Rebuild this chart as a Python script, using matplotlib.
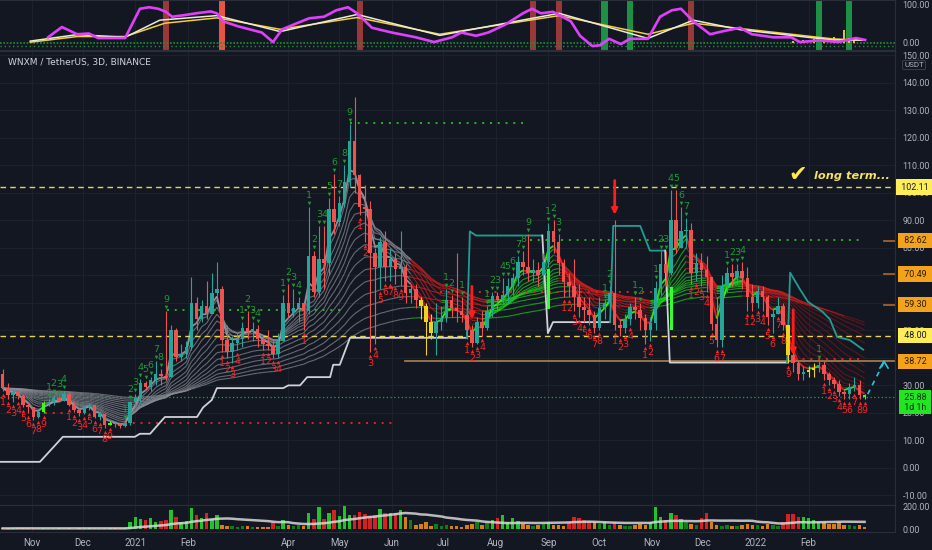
import numpy as np
import pandas as pd
import matplotlib.pyplot as plt
import matplotlib.transforms as mtransforms
from matplotlib.collections import LineCollection

BG = '#131722'
GRID = '#1d212c'
TXT = '#b2b5be'
AXFONT = 'Roboto'

# 3D candles, the first one opens on 2020-10-15
start = pd.Timestamp('2020-10-15')
first_open = 34.0
close = [29, 26.5, 27.5, 26, 23, 22, 18.5, 20.4, 23.5, 24,
         25.5, 24.5, 27, 23, 21, 20, 22, 23, 18.5, 19.6,
         15.5, 16.3, 15.8, 15.2, 16.3, 24, 25.5, 31, 29.5, 32,
         34, 33.5, 33, 50, 40.5, 41.5, 44, 60, 54, 59,
         56, 63.5, 65, 46.5, 42, 45.3, 47, 51, 49.5, 50.5,
         47, 45, 44.5, 41.5, 46, 60, 56.5, 58, 60, 57,
         77, 64, 76, 74.5, 94, 89.5, 96.5, 104, 119, 106.5,
         95, 94, 78, 73, 82, 73, 76, 72.5, 73, 63.5,
         65, 61, 59, 53, 49, 53, 54.5, 61, 58, 57,
         55.5, 50, 45.5, 53, 51, 57, 62.5, 61, 63, 66,
         69, 75, 73, 71, 72, 70, 75, 86, 82, 74.5,
         67.6, 66, 62, 58.5, 57.5, 55.6, 51, 58, 60, 63.5,
         52, 51, 54, 58.5, 57.5, 54.5, 50, 52.7, 65.5, 74,
         71, 90, 80, 86, 86.5, 71, 74.5, 72, 69.5, 52.5,
         46.5, 66, 71, 69.5, 71.5, 69, 62, 60, 64.5, 62,
         55, 56, 59, 52, 41, 38, 34, 35, 35.5, 36.5,
         37.5, 34, 32, 30.5, 27.6, 26.8, 29.5, 30, 26.5, 25.88]
high = [36, 31, 28.5, 28, 27, 23.5, 22, 21.5, 24.5, 25,
        26.5, 26, 28, 27.5, 24, 21.5, 23, 23.5, 23, 20.5,
        20, 17, 16.5, 16.3, 17, 24.5, 27, 32.5, 31.5, 33,
        39, 36, 57, 52, 51, 45, 46, 69.5, 62, 61,
        68, 71, 75, 66, 52, 48, 49, 53, 57, 53,
        52, 48, 50, 47, 49, 63, 67, 65, 62, 60,
        95, 79, 88, 88, 98, 107, 99, 110, 125, 135,
        107, 103, 97, 80, 84, 86, 80, 78, 86, 74,
        67, 67, 62, 60, 56, 60, 59, 65, 63, 78,
        62, 56, 52, 55, 57, 59, 64, 64, 69, 69,
        71, 77, 79, 85, 76, 75, 78, 89, 90, 85,
        76, 71, 76, 67, 62, 62, 57, 62, 61, 66,
        90, 54, 56, 60, 62, 60, 56, 55, 68, 79,
        79, 101, 101, 95, 91, 89, 78, 78, 77, 65,
        62, 70, 73, 74, 74, 75, 73, 67, 66, 66,
        63, 58, 62, 60, 52, 45, 39, 37, 37, 38,
        39, 39, 35, 33, 32, 28.5, 31, 33, 32, 27]
low = [28, 25, 24, 25, 22, 20, 17.5, 18, 20, 22.5,
       23, 24, 24.5, 22.5, 20.5, 19, 19.5, 21, 18, 17.5,
       14.5, 15.5, 15, 14.5, 15, 15.5, 22, 24, 28.5, 28,
       30, 30, 32, 33, 39, 39, 40, 43, 50, 53,
       54, 57, 62, 42, 40, 38, 43, 44, 47, 46,
       44, 43, 43, 40, 40, 46, 55, 55, 53, 50,
       56, 62, 62, 65, 70, 85, 88, 95, 102, 100,
       92, 82, 42, 45, 65, 68, 68, 67, 66, 60,
       60, 58, 54, 41, 47, 41, 50, 53, 55, 53,
       53, 47, 44, 45, 48, 50, 55, 57, 60, 60,
       63, 66, 70, 68, 68, 66, 67, 73, 78, 70,
       62, 62, 57, 55, 53, 52, 49, 50, 54, 57,
       50, 48, 49, 52, 54, 50, 45, 46, 50, 63,
       66, 70, 78, 80, 80, 67, 68, 66, 64, 50,
       44, 44, 64, 66, 67, 65, 57, 57, 58, 57,
       52, 49, 56, 50, 38, 35, 32, 32, 33, 33,
       35, 32, 30, 29, 26, 25, 25, 28, 25, 25]
volume = [6, 5, 8, 6, 5, 5, 7, 6, 8, 5, 6, 5, 6, 5, 4, 5, 5, 6, 7, 5, 8, 6, 5, 6, 7,
          68, 106, 88, 82, 97, 60, 70, 80, 176, 112, 60, 70, 194, 126, 100,
          141, 90, 126, 40, 30, 25, 20, 30, 25, 20, 20, 15, 20, 68, 25,
          82, 40, 30, 40, 30, 147, 88, 200, 90, 147, 170, 120, 244, 126, 126,
          156, 135, 118, 126, 185, 147, 147, 147, 176, 112, 82, 40, 50, 60, 30,
          45, 30, 40, 25, 30, 20, 40, 50, 68, 40, 60, 82, 97, 126, 60,
          97, 70, 50, 40, 30, 40, 50, 60, 40, 35, 30, 66, 112, 97, 82,
          70, 60, 50, 68, 40, 68, 40, 30, 30, 40, 50, 40, 60, 200, 112,
          80, 141, 126, 90, 60, 50, 40, 97, 141, 60, 40, 30, 40, 30, 25,
          40, 50, 40, 40, 30, 50, 40, 30, 65, 132, 132, 112, 112, 97, 80,
          68, 60, 50, 45, 60, 40, 35, 30, 40, 20]
yellow_candles = [82, 83, 84, 154, 158, 159]
lime_candles = [8, 21, 169]

# TD sequential counts
td_up_idx = [9, 10, 11, 12, 24, 25, 26, 27, 28, 29, 30, 31, 32, 47, 48, 49, 50,
             55, 56, 57, 58, 60, 61, 62, 63, 64, 65, 66, 67, 68, 87, 88, 90,
             95, 96, 97, 98, 99, 100, 101, 102, 103, 107, 108, 109, 118, 119,
             124, 125, 128, 129, 130, 131, 132, 133, 134, 142, 143, 144, 145, 160]
td_up_num = [1, 2, 3, 4, 1, 2, 3, 4, 5, 6, 7, 8, 9, 1, 2, 3, 4,
             1, 2, 3, 4, 1, 2, 3, 4, 5, 6, 7, 8, 9, 1, 2, 1,
             1, 2, 3, 4, 5, 6, 7, 8, 9, 1, 2, 3, 1, 2,
             1, 2, 1, 2, 3, 4, 5, 6, 7, 1, 2, 3, 4, 1]
td_dn_idx = [0, 1, 2, 3, 4, 5, 6, 7, 8, 13, 14, 15, 16, 17, 18, 19, 20, 21,
             43, 44, 45, 46, 51, 52, 53, 54, 59, 70, 71, 72, 73, 74, 75, 76, 77, 78,
             91, 92, 93, 94, 110, 111, 112, 113, 114, 115, 116, 117, 120, 121, 122, 123,
             126, 127, 135, 136, 137, 138, 139, 140, 141,
             146, 147, 148, 149, 150, 151, 152, 153, 154,
             161, 162, 163, 164, 165, 166, 167, 168, 169]
td_dn_num = [1, 2, 3, 4, 5, 6, 7, 8, 9, 1, 2, 3, 4, 5, 6, 7, 8, 9,
             1, 2, 3, 4, 1, 2, 3, 4, 1, 1, 2, 3, 4, 5, 6, 7, 8, 9,
             1, 2, 3, 4, 1, 2, 3, 4, 5, 6, 7, 8, 1, 2, 3, 4,
             1, 2, 1, 2, 3, 4, 5, 6, 7,
             1, 2, 3, 4, 5, 6, 7, 8, 9,
             1, 2, 3, 4, 5, 6, 7, 8, 9]

# trailing stop line: (side, candle positions, prices)
trail = [
    ('long', [-0.5, 7.3, 11.8, 25.9, 26.9, 28.9, 31.8, 38.1, 39.3, 41, 42, 55, 56, 58.3,
              59.7, 64.2, 64.8, 66.1, 68.1, 91],
     [2.2, 2.2, 11.3, 11.3, 12.4, 12.4, 18.5, 18.5, 22, 24.7, 29, 29, 30, 30,
      33, 33, 37.5, 37.5, 47.3, 47.3]),
    ('short', [91, 91.6, 92.8, 105.8], [47.3, 86, 84.5, 84.5]),
    ('long', [105.8, 106.9, 107.9, 119.1], [84.5, 49, 53, 53]),
    ('short', [119.1, 119.7, 125, 126.9, 129.9], [53, 88, 88, 79, 79]),
    ('long', [129.9, 130.8, 153.8], [79, 38.3, 38.3]),
    ('short', [153.8, 154.4, 156.3, 157.9, 160.8, 162.2, 163.6, 166.1, 168.7],
     [38.3, 71, 65, 60.4, 56.7, 54, 47.6, 46.5, 43]),
]

# dotted TD levels: (from, to, price)
green_levels = [(32.2, 67.1, 57.5), (68.1, 102, 125.4), (103.4, 168.7, 83.0)]
red_levels = [(8.3, 12.2, 20.0), (24, 77, 16.5), (85.7, 127.5, 64.0), (153.8, 168.7, 39.6)]
red_arrows = [(92, 67, 53), (120, 105.5, 91), (155, 58.5, 40)]
green_bars = [(107, 72, 58.5), (131, 65.5, 51)]
ribbon_len = [4, 6, 8, 10, 13, 16, 20, 25, 31, 38, 47, 58, 72, 90]

# upper oscillator
osc_idx = [8.9, 11.6, 14.6, 16.9, 18.7, 24, 26.9, 28.7, 30.5, 32, 33.2, 35.5, 37.9, 40.8,
           42, 43.2, 46.1, 50.8, 53, 54.8, 57.7, 60.1, 63, 65.4, 67.7, 69.5, 72.4, 76.3,
           81, 84.6, 88.1, 89.9, 92.8, 95.2, 98.5, 102, 103.8, 105.5, 107.9, 109.7, 111.4,
           113.2, 115.6, 117.1, 118.9, 121.2, 123, 126.5, 128.9, 131.2, 133, 135.4, 138.7,
           141.6, 144.6, 146.9, 151.1, 154.6, 156.3, 160.3, 163.8, 167.3, 169.1]
osc_val = [15, 42, 23, 25, 13, 13, 90, 94, 90, 82, 69, 73, 78, 83,
           78, 57, 44, 27.5, 2.5, 36, 52, 65, 69, 86, 94, 78, 40, 27.5,
           15, 2.5, 15, 27.5, 19, 27.5, 48, 78, 90, 78, 82, 69, 57,
           19, -8, -6, 11, -3, 11, 11, 69, 86, 90, 57, 23,
           32, 40, 23, 15, 15, 2.5, 7, 2.5, 13, 8]
yel_idx = [5.4, 14.6, 24, 31.8, 42, 54.4, 69.5, 85.7, 109.1, 126.5, 135.4, 162.6, 168.5]
yel_val = [2, 17, 17, 52, 66, 36, 67, 23, 72, 23, 52, 11, 7]
wht_idx = [5.4, 14.6, 24, 30.8, 42, 54.4, 69.5, 85.7, 109.1, 126.5, 135.4, 144.6, 162.6, 168.5]
wht_val = [5, 22, 15, 60, 72, 30, 75, 20, 78, 12, 60, 35, 8, 8]
sig_red = [32, 70, 104, 109, 135]
sig_bright = [43]
sig_green = [118, 123, 160, 166]
hist_idx = [155, 157, 159, 161, 163, 165, 166, 167]
hist_val = [6, 8, 10, 12, 15, 33, 14, 10]

month_dates = ['2020-11-01', '2020-12-01', '2021-01-01', '2021-02-01', '2021-04-01',
               '2021-05-01', '2021-06-01', '2021-07-01', '2021-08-01', '2021-09-01',
               '2021-10-01', '2021-11-01', '2021-12-01', '2022-01-01', '2022-02-01']
month_labels = ['Nov', 'Dec', '2021', 'Feb', 'Apr', 'May', 'Jun', 'Jul', 'Aug', 'Sep',
                'Oct', 'Nov', 'Dec', '2022', 'Feb']


def ema(vals, n):
    a = 2.0 / (n + 1)
    out = np.empty(len(vals))
    out[0] = vals[0]
    for k in range(1, len(vals)):
        out[k] = a * vals[k] + (1 - a) * out[k - 1]
    return out


close = np.array(close, float)
high = np.array(high, float)
low = np.array(low, float)
volume = np.array(volume, float)
n = len(close)
xs = np.arange(n)
opens = np.concatenate([[first_open], close[:-1]])
month_pos = [(pd.Timestamp(d) - start).days / 3 for d in month_dates]

W, H = 932, 550
XR = 895 / W
fig = plt.figure(figsize=(9.32, 5.5), dpi=100, facecolor=BG)
ax_o = fig.add_axes([0, 1 - 50 / H, XR, 50 / H])
ax = fig.add_axes([0, 1 - 505 / H, XR, 454 / H])
ax_v = fig.add_axes([0, 1 - 532 / H, XR, 27 / H])
xlim = (-0.53, 174.96)

for a in (ax_o, ax, ax_v):
    a.set_facecolor(BG)
    a.set_xlim(*xlim)
    for s in a.spines.values():
        s.set_color('#2a2e39')
        s.set_linewidth(0.8)
    a.spines['left'].set_visible(False)
    a.yaxis.tick_right()
    a.tick_params(axis='y', length=0, pad=5.5, labelsize=6.4, labelcolor=TXT)
    a.tick_params(axis='x', length=0)
    for p in month_pos:
        a.axvline(p, color=GRID, lw=0.8, zorder=0)

# ---------- main price panel ----------
ax.set_ylim(-13.5, 151.6)
ticks = np.arange(-10, 151, 10)
ax.set_yticks(ticks)
# 60 and 70 sit fully behind the level boxes
ax.set_yticklabels(['' if t in (60, 70) else '%.2f' % t for t in ticks], fontfamily=AXFONT)
ax.set_xticks([])
for t in ticks:
    ax.axhline(t, color=GRID, lw=0.8, zorder=0)

# ribbon
slow = ema(close, 100)
for L in ribbon_len:
    e = ema(close, L)
    segs = [[(k, e[k]), (k + 1, e[k + 1])] for k in range(n - 1)]
    cols = []
    for k in range(n - 1):
        if k < 80:
            cols.append('#8a8d96')
        elif e[k + 1] >= e[k]:
            cols.append('#1ccf1c' if e[k + 1] > slow[k + 1] else '#117a11')
        else:
            cols.append('#cc1f1f' if e[k + 1] > slow[k + 1] else '#7d1616')
    ax.add_collection(LineCollection(segs, colors=cols, linewidths=0.8, alpha=0.7, zorder=2))

fast = ema(close, 3)
segs = [[(k, fast[k]), (k + 1, fast[k + 1])] for k in range(n - 1)]
cols = []
for k in range(n - 1):
    if k < 80:
        cols.append('#a0a3ab')
    elif fast[k + 1] >= fast[k]:
        cols.append('#39ff14')
    else:
        cols.append('#ff2020')
ax.add_collection(LineCollection(segs, colors=cols, linewidths=1.3, alpha=0.85, zorder=2))

# trailing stop
for side, ti, tv in trail:
    ax.plot(ti, tv, color='#d0d2d8' if side == 'long' else '#1f9e94', lw=1.3, zorder=2.5)

# levels
ax.axhline(102.11, color='#e8d44d', lw=1, ls=(0, (4, 3)), zorder=2)
ax.axhline(48.0, color='#e8d44d', lw=1, ls=(0, (4, 3)), zorder=2)
ax.axhline(25.88, color='#1faa3c', lw=0.9, ls=(0, (1, 2)), zorder=2)
ax.plot([78.8, xlim[1]], [38.72, 38.72], color='#9c7a4e', lw=1.3, zorder=2)
for lv in (82.62, 70.49, 59.30):
    ax.plot([172.9, xlim[1]], [lv, lv], color='#a0632a', lw=1.3, zorder=2)
for a0, a1, p in green_levels:
    ax.plot([a0, a1], [p, p], color='#22b822', lw=1.4, ls=(0, (1, 3)), zorder=2)
for a0, a1, p in red_levels:
    ax.plot([a0, a1], [p, p], color='#e02424', lw=1.4, ls=(0, (1, 3)), zorder=2)

# candles
up = close >= opens
ccol = np.where(up, '#26a69a', '#ef5350').astype(object)
for k in yellow_candles:
    ccol[k] = '#f2d21b'
for k in lime_candles:
    ccol[k] = '#39ff14'
ax.vlines(xs, low, high, colors=list(ccol), lw=0.8, zorder=3)
body_lo = np.minimum(opens, close)
body_h = np.maximum(np.abs(close - opens), 0.5)
ax.bar(xs, body_h, bottom=body_lo, width=0.7, color=list(ccol), zorder=3, linewidth=0)

# signals
for i, p0, p1 in red_arrows:
    ax.annotate('', xy=(i, p1), xytext=(i, p0),
                arrowprops=dict(arrowstyle='-|>', color='#ff1c1c', lw=2, mutation_scale=8),
                zorder=4)
for i, p0, p1 in green_bars:
    ax.plot([i, i], [p0, p1], color='#33ff33', lw=2.2, zorder=4)
ax.plot([169.6, 172.8], [26.8, 38.5], color='#26c6da', lw=1.2, ls=(0, (3, 3)), zorder=4)
ax.plot([172.0, 172.8, 173.6], [36.3, 38.8, 36.3], color='#26c6da', lw=1.2, zorder=4)

# TD counts
px = 1 / 2.75
hh = high[td_up_idx]
ax.scatter(td_up_idx, hh + 4 * px, marker='v', s=7, color='#1f9a34', linewidths=0, zorder=4)
for i, num, h in zip(td_up_idx, td_up_num, hh):
    ax.text(i, h + 7 * px, str(num), color='#1f9a34', fontsize=6.8, ha='center', va='bottom', zorder=4)
ll = low[td_dn_idx]
ax.scatter(td_dn_idx, ll - 4 * px, marker='^', s=7, color='#ff2424', linewidths=0, zorder=4)
for i, num, l in zip(td_dn_idx, td_dn_num, ll):
    ax.text(i, l - 7 * px, str(num), color='#ff2424', fontsize=6.8, ha='center', va='top', zorder=4)

# texts
ax.text(8 / 895, 1 - 11 / 454, 'WNXM / TetherUS, 3D, BINANCE', transform=ax.transAxes,
        color='#d1d4dc', fontsize=6.5, va='center', ha='left')
ax.text(155.8, 106.5, '\u2714', color='#ffe94a', fontsize=16, ha='center', va='center', zorder=5)
ax.text(159.0, 106.2, 'long term...', color='#f4e25c', fontsize=8.2, style='italic',
        fontweight='bold', ha='left', va='center', zorder=5)

tr = mtransforms.blended_transform_factory(ax.transAxes, ax.transData)
box_x = 1 + 20 / 895
box = dict(fontsize=6.4, fontfamily=AXFONT, va='center', ha='center', transform=tr,
           clip_on=False, zorder=6)
for lv in (102.11, 48.00):
    ax.text(box_x, lv, ' %.2f ' % lv, color='#131722',
            bbox=dict(boxstyle='square,pad=0.35', fc='#ffee58', ec='none'), **box)
for lv in (82.62, 70.49, 59.30, 38.72):
    ax.text(box_x, lv, ' %.2f ' % lv, color='#2a1a00',
            bbox=dict(boxstyle='square,pad=0.35', fc='#f5a21b', ec='none'), **box)
ax.text(box_x, 23.9, ' 25.88 \n 1d 1h ', color='#0b2a0b', linespacing=1.15,
        bbox=dict(boxstyle='square,pad=0.3', fc='#22e622', ec='none'), **box)
ax.text(1 + 19 / 895, 147.6, 'USDT', color=TXT, fontsize=5.8, fontfamily=AXFONT, va='top',
        ha='center', transform=tr,
        bbox=dict(boxstyle='round,pad=0.2', fc=BG, ec='#434651', lw=0.6), clip_on=False, zorder=6)

# ---------- oscillator panel ----------
ax_o.set_ylim(-18.4, 113)
ax_o.set_yticks([0, 100])
ax_o.set_yticklabels(['0.00', '100.00'], fontfamily=AXFONT)
ax_o.set_xticks([])
for i in sig_red:
    ax_o.axvspan(i - 0.6, i + 0.6, color='#a93c3c', alpha=0.9, lw=0, zorder=1)
for i in sig_bright:
    ax_o.axvspan(i - 0.6, i + 0.6, color='#ff5a4a', alpha=0.9, lw=0, zorder=1)
for i in sig_green:
    ax_o.axvspan(i - 0.6, i + 0.6, color='#1f9e4a', alpha=0.9, lw=0, zorder=1)
ax_o.axhline(0, color='#1f8f3a', lw=1.2, ls=(0, (1, 1)), zorder=1)
ax_o.axhline(-7, color='#1f8f3a', lw=1.0, ls=(0, (1, 2)), zorder=1)
ax_o.bar(hist_idx, hist_val, width=0.4, color='#e6c229', zorder=2)
ax_o.plot(yel_idx, yel_val, color='#f2cf3a', lw=1.1, zorder=3)
ax_o.plot(wht_idx, wht_val, color='#ecebd8', lw=1.1, zorder=3)
ax_o.plot(osc_idx, osc_val, color='#e040fb', lw=1.9, zorder=4)

# ---------- volume panel ----------
ax_v.set_ylim(-27, 218)
ax_v.set_yticks([0, 200])
ax_v.set_yticklabels(['0.00', '200.00'], fontfamily=AXFONT)
vma = pd.Series(volume).rolling(20, min_periods=1).mean().values
vcol = []
for k in range(n):
    if up[k]:
        vcol.append('#22c22e' if volume[k] > vma[k] else '#137a1a')
    else:
        vcol.append('#d32222' if volume[k] > vma[k] else '#d4801a')
ax_v.bar(xs, volume, width=0.7, color=vcol, zorder=2)
ax_v.plot(xs, vma, color='#d8d8d8', lw=1.8, alpha=0.85, zorder=3)
ax_v.set_xticks(month_pos)
ax_v.set_xticklabels(month_labels, fontfamily=AXFONT)
ax_v.tick_params(axis='x', pad=4, labelsize=7, labelcolor=TXT)

fig.savefig('out.png', dpi=100, facecolor=BG)
